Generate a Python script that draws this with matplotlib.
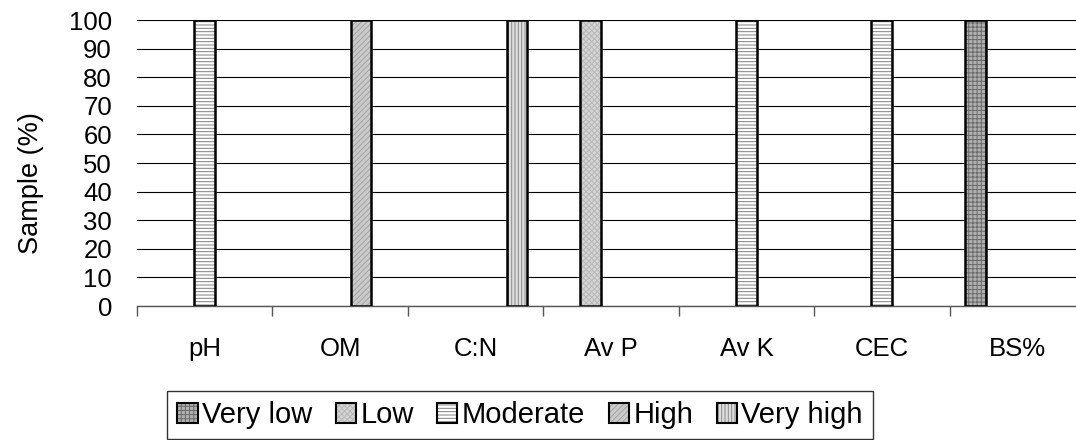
import numpy as np
import matplotlib
matplotlib.use('Agg')
import matplotlib.pyplot as plt
from matplotlib.patches import Patch

plt.rcParams['font.family'] = ['Liberation Sans', 'DejaVu Sans']
plt.rcParams['hatch.linewidth'] = 0.7

# soil properties and share of samples in each rating class
properties = ['pH', 'OM', 'C:N', 'Av P', 'Av K', 'CEC', 'BS%']
classes = ['Very low', 'Low', 'Moderate', 'High', 'Very high']
very_low = [0, 0, 0, 0, 0, 0, 100]
low = [0, 0, 0, 100, 0, 0, 0]
moderate = [100, 0, 0, 0, 100, 100, 0]
high = [0, 100, 0, 0, 0, 0, 0]
very_high = [0, 0, 100, 0, 0, 0, 0]
series = [very_low, low, moderate, high, very_high]

# face colour, hatch, hatch colour for each class
styles = [
    ('#b0b0b0', '++++', '#6a6a6a'),
    ('#d4d4d4', 'xxxxxx', '#b8b8b8'),
    ('#ffffff', '-----', '#808080'),
    ('#cacaca', '//////', '#a4a4a4'),
    ('#dcdcdc', '|||||', '#8c8c8c'),
]

fig = plt.figure(figsize=(10.76, 4.4), dpi=100)
ax = fig.add_axes([137 / 1076, 134 / 440, 948 / 1076, 286 / 440])

x = np.arange(len(properties))
w = 0.153
handles = []
for i, (vals, (fc, hatch, hc)) in enumerate(zip(series, styles)):
    vals = np.array(vals)
    keep = vals > 0  # empty classes get no bar
    pos = (x + (i - 2) * w)[keep]
    ax.bar(pos, vals[keep], w, color=fc, hatch=hatch, edgecolor=hc, linewidth=0, zorder=3)
    ax.bar(pos, vals[keep], w, facecolor='none', edgecolor='black', linewidth=1.8, zorder=4)
    h1 = Patch(facecolor=fc, hatch=hatch, edgecolor=hc, linewidth=0)
    h2 = Patch(facecolor='none', edgecolor='black', linewidth=1.5)
    handles.append((h1, h2))

ax.set_xlim(-0.5, len(properties) - 0.5)
ax.set_ylim(0, 100)
ax.set_yticks(range(0, 101, 10))
ax.yaxis.grid(True, color='black', linewidth=0.8, zorder=0)
ax.set_axisbelow(True)

for s in ['left', 'top', 'right']:
    ax.spines[s].set_visible(False)
ax.spines['bottom'].set_color('#555555')
ax.spines['bottom'].set_linewidth(1.0)

ax.set_xticks(x)
ax.set_xticklabels(properties)
ax.set_xticks(np.arange(len(properties) + 1) - 0.5, minor=True)
ax.tick_params(axis='x', which='major', length=0, pad=22, labelsize=18.5)
ax.tick_params(axis='x', which='minor', length=7, width=1.0, color='#555555')
ax.tick_params(axis='y', length=0, pad=18, labelsize=18.5)

ax.set_ylabel('Sample (%)', fontsize=19.5)
ax.yaxis.set_label_coords(-0.098, 0.43)

leg = fig.legend(handles, classes, loc='upper center', bbox_to_anchor=(520 / 1076, 1 - 391 / 440),
                 ncol=5, fontsize=21, frameon=True, fancybox=False, handlelength=0.7,
                 handleheight=0.7, handletextpad=0.15, columnspacing=0.8, borderpad=0.35,
                 borderaxespad=0)
leg.get_frame().set_edgecolor('black')
leg.get_frame().set_linewidth(1.0)

fig.savefig('out.png', dpi=100)
